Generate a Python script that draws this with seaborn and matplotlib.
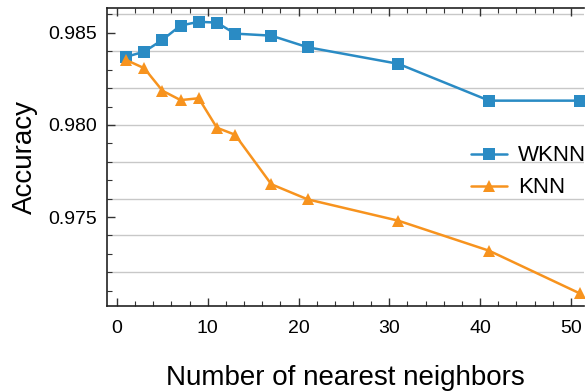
import numpy as np
import pandas as pd
import seaborn as sns
import matplotlib.pyplot as plt
from matplotlib.ticker import MultipleLocator

# Datos
k_vecinos = [1, 3, 5, 7, 9, 11, 13, 17, 21, 31, 41, 51]
acc_wknn = [0.98370, 0.98398, 0.98462, 0.98540, 0.98560, 0.98556,
            0.98496, 0.98485, 0.98422, 0.98332, 0.98132, 0.98132]
acc_knn = [0.98353, 0.98308, 0.98186, 0.98135, 0.98145, 0.97985,
           0.97947, 0.97678, 0.97596, 0.97480, 0.97317, 0.97085]

df = pd.concat([
    pd.DataFrame({"k": k_vecinos, "acc": acc_wknn, "Método": "WKNN"}),
    pd.DataFrame({"k": k_vecinos, "acc": acc_knn, "Método": "KNN"}),
], ignore_index=True)

sns.set_theme(style="white")
plt.rcParams["font.family"] = ["Liberation Sans", "DejaVu Sans"]
plt.rcParams["text.color"] = "black"
plt.rcParams["axes.labelcolor"] = "black"
plt.rcParams["xtick.labelcolor"] = "black"
plt.rcParams["ytick.labelcolor"] = "black"

fig, ax = plt.subplots(figsize=(5.85, 3.92), dpi=100)
fig.subplots_adjust(left=0.183, right=0.999, bottom=0.219, top=0.98)

# Rejilla horizontal cada 0.002
for yv in np.arange(0.972, 0.9865, 0.002):
    ax.axhline(yv, color="#c8c8c8", lw=1, zorder=0)

sns.lineplot(data=df, x="k", y="acc", hue="Método", style="Método",
             hue_order=["WKNN", "KNN"], style_order=["WKNN", "KNN"],
             palette={"WKNN": "#2a8bc4", "KNN": "#f7931e"},
             markers={"WKNN": "s", "KNN": "^"}, dashes=False,
             markersize=8, markeredgewidth=0, lw=1.8, ax=ax)

ax.set_xlim(-1.1, 51.5)
ax.set_ylim(0.97016, 0.98636)
ax.xaxis.set_major_locator(MultipleLocator(10))
ax.xaxis.set_minor_locator(MultipleLocator(2))
ax.yaxis.set_major_locator(MultipleLocator(0.005))
ax.yaxis.set_minor_locator(MultipleLocator(0.001))
ax.yaxis.set_major_formatter(plt.FormatStrFormatter("%.3f"))

ax.tick_params(which="both", direction="in", top=True, bottom=True,
               left=True, right=False, color="#333333")
ax.tick_params(which="major", length=6, width=1, labelsize=14, pad=7)
ax.tick_params(which="minor", length=3.5, width=0.8)
ax.tick_params(axis="x", which="major", pad=10)

for s in ["left", "bottom", "top"]:
    ax.spines[s].set_color("#222222")
    ax.spines[s].set_linewidth(1.2)
ax.spines["right"].set_visible(False)

ax.set_xlabel("Number of nearest neighbors", fontsize=20, labelpad=20)
ax.set_ylabel("Accuracy", fontsize=20, labelpad=8)

leg = ax.legend(loc="center right", bbox_to_anchor=(1.045, 0.45), frameon=False,
                fontsize=16, handlelength=1.6, handletextpad=0.5, labelspacing=0.5)

plt.savefig("out.png", dpi=100)
